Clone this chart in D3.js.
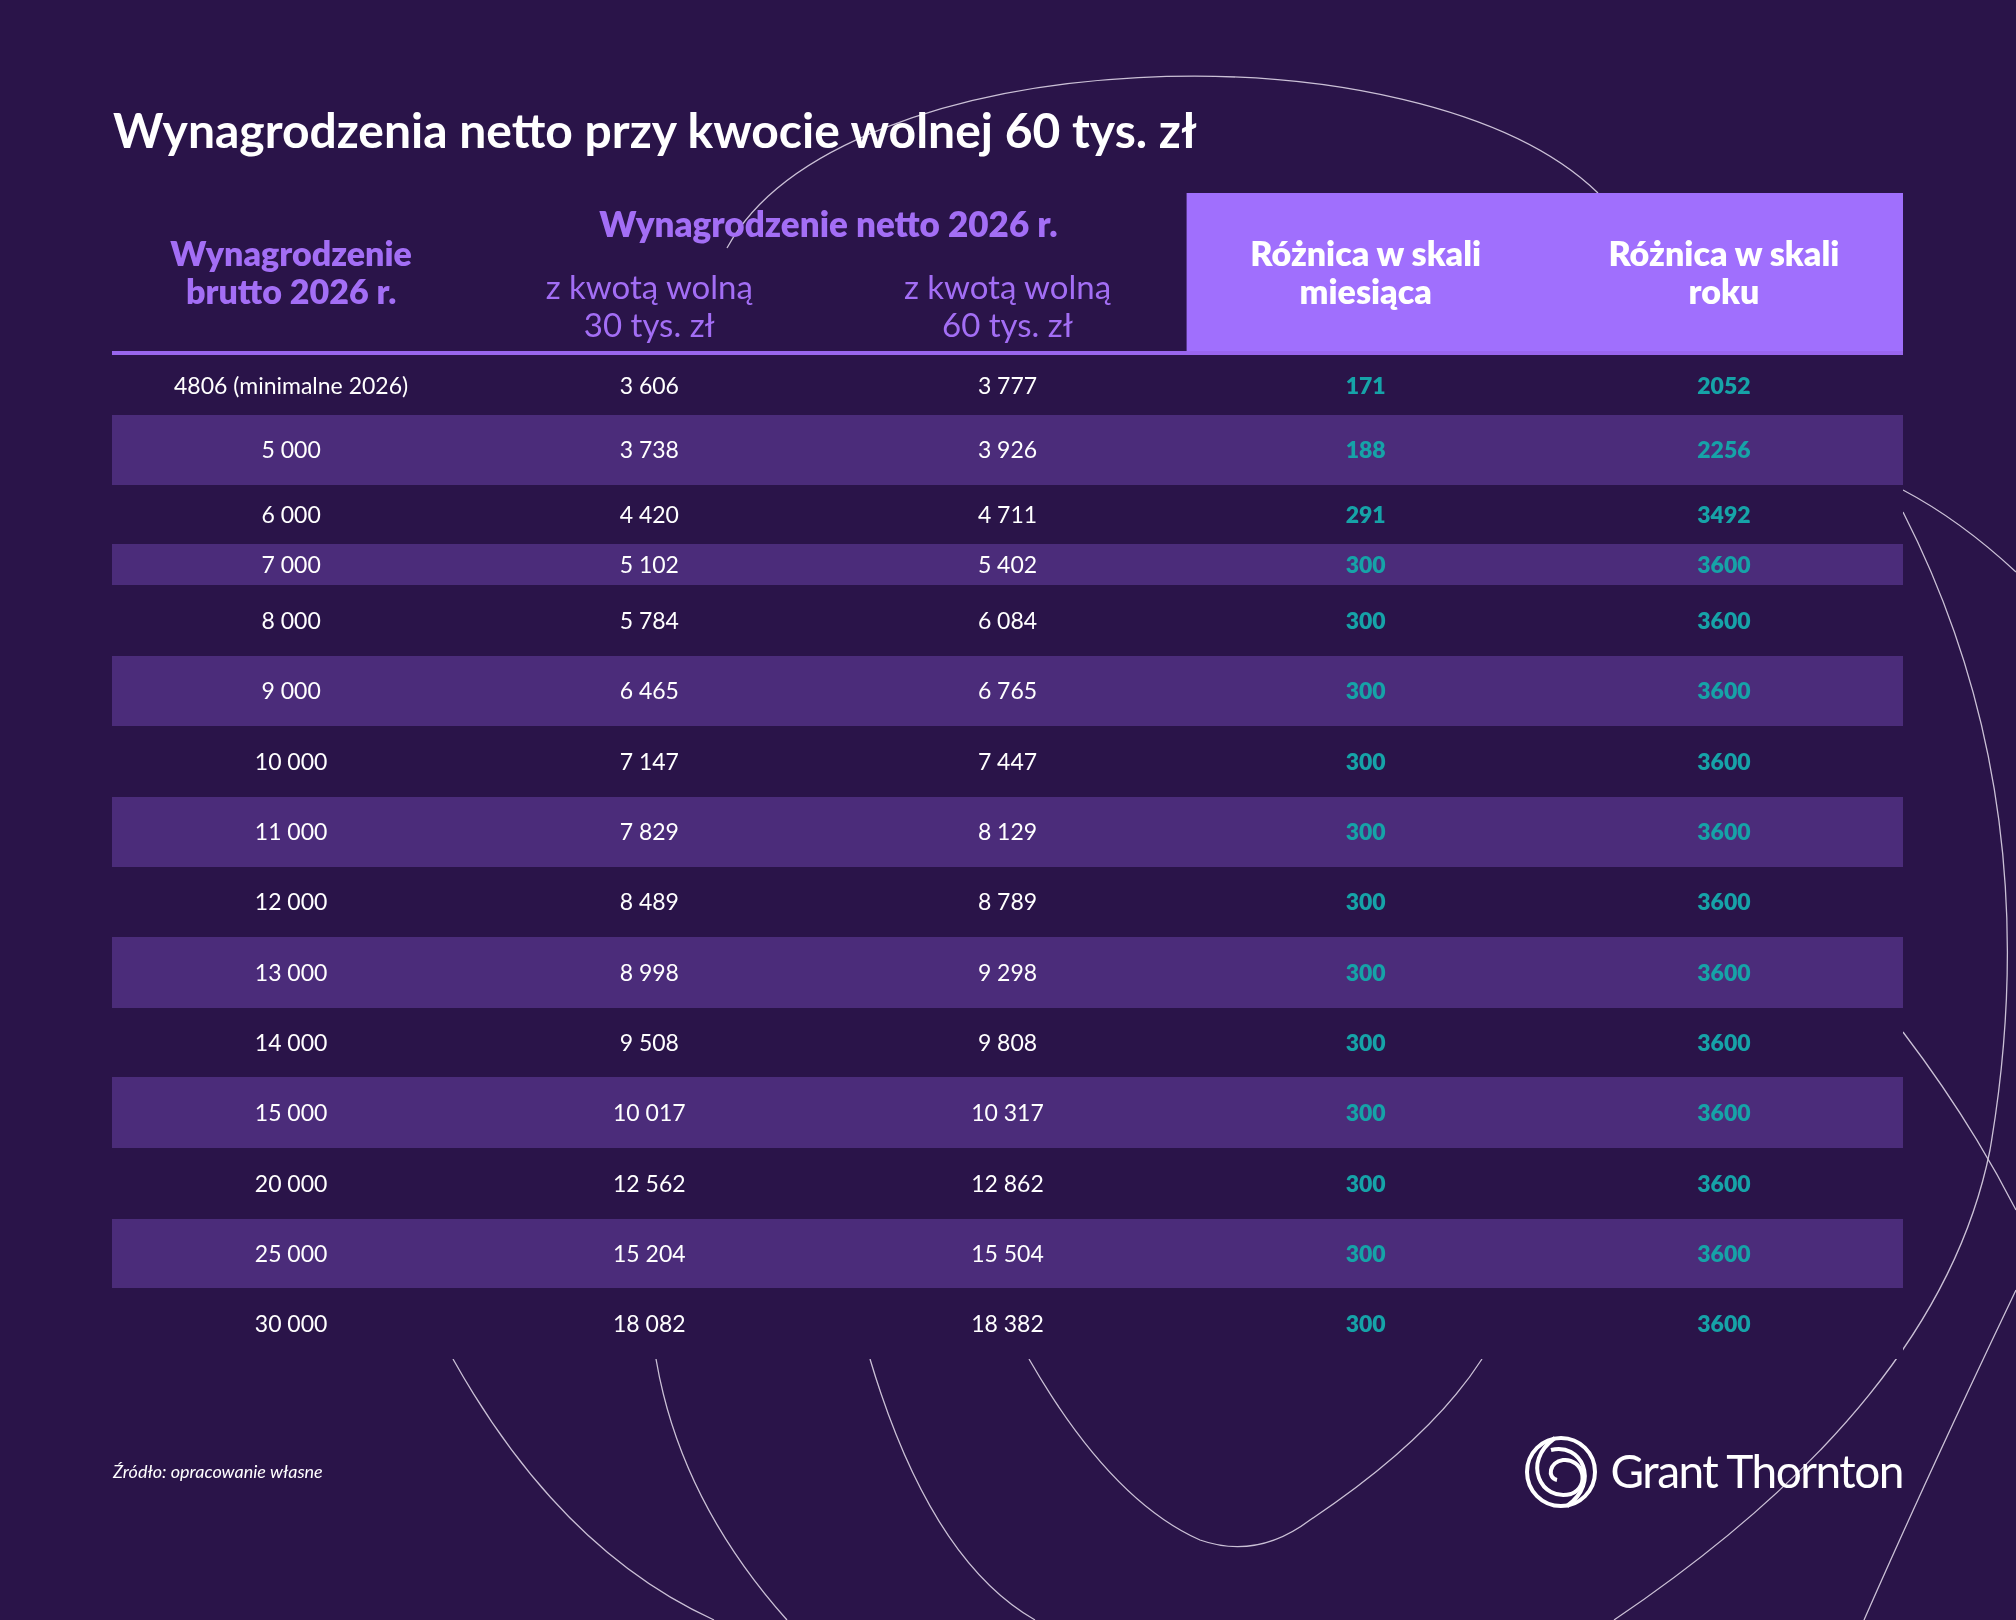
<!DOCTYPE html>
<html>
<head>
<meta charset="utf-8">
<script src="https://cdn.jsdelivr.net/npm/d3@7"></script>
<style>
    body { margin: 0; background: #2a1449; }
    text { font-family: Lato, "Open Sans", sans-serif; }
</style>
</head>
<body>
<div id="chart"></div>
<script>
    var brutto = ["4806 (minimalne 2026)", "5 000", "6 000", "7 000", "8 000", "9 000", "10 000", "11 000",
        "12 000", "13 000", "14 000", "15 000", "20 000", "25 000", "30 000"];
    var netto30 = ["3 606", "3 738", "4 420", "5 102", "5 784", "6 465", "7 147", "7 829",
        "8 489", "8 998", "9 508", "10 017", "12 562", "15 204", "18 082"];
    var netto60 = ["3 777", "3 926", "4 711", "5 402", "6 084", "6 765", "7 447", "8 129",
        "8 789", "9 298", "9 808", "10 317", "12 862", "15 504", "18 382"];
    var diffMonth = [171, 188, 291, 300, 300, 300, 300, 300, 300, 300, 300, 300, 300, 300, 300];
    var diffYear = [2052, 2256, 3492, 3600, 3600, 3600, 3600, 3600, 3600, 3600, 3600, 3600, 3600, 3600, 3600];

    // row heights in the original are uneven at the top
    var rowWeights = [59, 70, 59, 41, 71, 70, 71, 70, 70, 71, 69, 71, 71, 69, 71];

    var w = 2016, h = 1620;
    var left = 112, right = 1903, headTop = 193, headBottom = 355, tableBottom = 1359;
    var bg = "#2a1449", band = "#4b2c7a", lilac = "#a06ffd", headText = "#a36ef5", teal = "#16a3a8";

    var svg = d3.select("#chart").append("svg").attr("width", w).attr("height", h);
    svg.append("rect").attr("width", w).attr("height", h).attr("fill", bg);

    // decorative spiral lines, hidden behind the table
    var defs = svg.append("defs");
    var mask = defs.append("mask").attr("id", "m");
    mask.append("rect").attr("width", w).attr("height", h).attr("fill", "white");
    mask.append("rect").attr("x", left).attr("y", headTop).attr("width", right - left)
        .attr("height", tableBottom - headTop).attr("fill", "black");
    var deco = svg.append("g").attr("fill", "none")
        .attr("stroke", "#e8e0f0").attr("stroke-width", 1.3).attr("opacity", 0.85);
    deco.append("path").attr("d", "M727,248 C840,40 1420,20 1598,193");
    var masked = deco.append("g").attr("mask", "url(#m)");
    masked.append("path").attr("d", "M1903,490 Q1960,520 2016,572");
    masked.append("path").attr("d", "M1903,512 Q2050,800 1990,1150 Q1940,1400 1614,1620");
    masked.append("path").attr("d", "M1903,1032 Q1970,1120 2016,1210");
    masked.append("path").attr("d", "M2016,1290 Q1930,1470 1864,1620");
    masked.append("path").attr("d", "M453,1359 Q560,1550 714,1620");
    masked.append("path").attr("d", "M656,1359 Q680,1500 787,1620");
    masked.append("path").attr("d", "M870,1359 Q930,1560 1035,1620");
    masked.append("path").attr("d", "M1029,1359 Q1110,1500 1200,1540 Q1257,1560 1310,1520 Q1430,1440 1482,1359");

    // title
    svg.append("text").attr("x", 113).attr("y", 148).attr("fill", "white")
        .attr("font-size", 48).attr("font-weight", 700).text("Wynagrodzenia netto przy kwocie wolnej 60 tys. zł");

    var cols = [brutto, netto30, netto60, diffMonth, diffYear];
    var x = d3.scaleBand().domain(d3.range(cols.length)).range([left, right]);

    var cum = [0];
    rowWeights.forEach(function (v, i) { cum.push(cum[i] + v); });
    var y = d3.scaleLinear().domain([0, cum[cum.length - 1]]).range([headBottom + 1, tableBottom]);

    // header
    svg.append("rect").attr("x", x(3)).attr("y", headTop).attr("width", x.bandwidth() * 2)
        .attr("height", headBottom - headTop).attr("fill", lilac);
    svg.append("rect").attr("x", left).attr("y", headBottom - 4).attr("width", right - left)
        .attr("height", 4).attr("fill", "#9966ee");

    function headerLines(cx, lines, yy, color, weight, size) {
        var t = svg.append("text").attr("text-anchor", "middle").attr("fill", color)
            .attr("font-weight", weight).attr("font-size", size);
        lines.forEach(function (l, i) {
            t.append("tspan").attr("x", cx).attr("y", yy + i * 38).text(l);
        });
    }
    headerLines(x(0) + x.bandwidth() / 2, ["Wynagrodzenie", "brutto 2026 r."], 266, headText, 800, 34);
    headerLines(x(1) + x.bandwidth(), ["Wynagrodzenie netto 2026 r."], 237, headText, 800, 35);
    headerLines(x(1) + x.bandwidth() / 2, ["z kwotą wolną", "30 tys. zł"], 299, headText, 400, 33);
    headerLines(x(2) + x.bandwidth() / 2, ["z kwotą wolną", "60 tys. zł"], 299, headText, 400, 33);
    headerLines(x(3) + x.bandwidth() / 2, ["Różnica w skali", "miesiąca"], 266, "white", 800, 34);
    headerLines(x(4) + x.bandwidth() / 2, ["Różnica w skali", "roku"], 266, "white", 800, 34);

    // bands
    svg.selectAll("rect.band").data(rowWeights).enter()
        .filter(function (d, i) { return i % 2 === 1; })
        .append("rect").attr("class", "band")
        .attr("x", left).attr("width", right - left)
        .attr("y", function (d, i) { return y(cum[i * 2 + 1]); })
        .attr("height", function (d, i) { return y(cum[i * 2 + 2]) - y(cum[i * 2 + 1]); })
        .attr("fill", band);

    // cells
    cols.forEach(function (col, c) {
        svg.selectAll("text.c" + c).data(col).enter().append("text")
            .attr("class", "c" + c)
            .attr("x", x(c) + x.bandwidth() / 2)
            .attr("y", function (d, i) { return (y(cum[i]) + y(cum[i + 1])) / 2; })
            .attr("dy", "0.36em")
            .attr("text-anchor", "middle")
            .attr("font-size", 23)
            .attr("font-weight", c > 2 ? 800 : 400)
            .attr("fill", c > 2 ? teal : "white")
            .text(function (d) { return d; });
    });

    // source
    svg.append("text").attr("x", 113).attr("y", 1478).attr("fill", "white").attr("font-size", 18)
        .attr("font-style", "italic").text("Źródło: opracowanie własne");

    // logo
    var logo = svg.append("g").attr("transform", "translate(1561,1472)").attr("fill", "none")
        .attr("stroke", "white").attr("stroke-width", 4);
    logo.append("circle").attr("r", 34);
    logo.append("path").attr("d", "M-6,-34 C-40,-10 -20,30 10,22 C30,14 22,-14 2,-12 C-12,-10 -14,6 -4,8");
    logo.append("path").attr("d", "M6,34 C40,10 20,-30 -10,-22");
    svg.append("text").attr("x", 1903).attr("y", 1488).attr("text-anchor", "end").attr("fill", "white")
        .attr("font-size", 46).attr("font-weight", 400).attr("letter-spacing", -1.5).text("Grant Thornton");
</script>
</body>
</html>
